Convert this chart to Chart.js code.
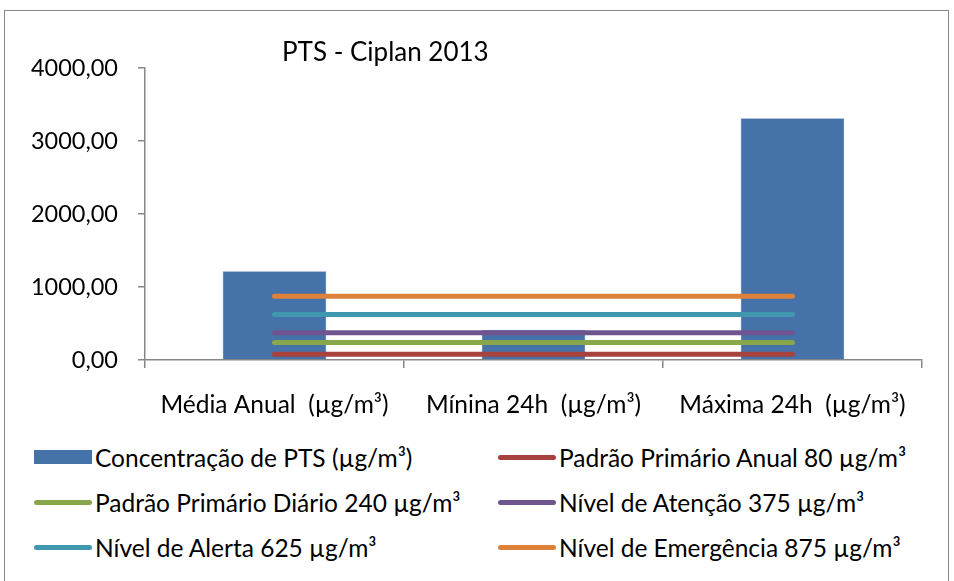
<!DOCTYPE html>
<html>
<head>
<meta charset="utf-8">
<script src="https://cdn.jsdelivr.net/npm/chart.js@4/dist/chart.umd.min.js"></script>
<style>
  html, body { margin: 0; padding: 0; background: #fff; }
  body { width: 954px; height: 581px; position: relative; overflow: hidden; font-family: Lato, "Open Sans", sans-serif; color: #000; }
  .frame { position: absolute; left: 4px; top: 10px; width: 943px; height: 600px; border: 1.5px solid #878787; }
  #wrap { position: absolute; left: 0; top: 0; width: 954px; height: 440px; }
  .title { position: absolute; left: 282px; top: 36px; font-size: 26px; line-height: 31px; white-space: pre; }
  .legend-item { position: absolute; height: 30px; display: flex; align-items: center; font-size: 24.5px; white-space: pre; }
  .sym { width: 58px; margin-right: 3px; }
  .sym.bar { height: 14px; }
  .sym.line { height: 5px; border-radius: 3px; }
</style>
</head>
<body>
<div class="frame"></div>
<div id="wrap"><canvas id="pts-chart"></canvas></div>
<div class="title">PTS - Ciplan 2013</div>
<div id="legend"></div>
<script>
const categories = ['Média Anual  (µg/m³)', 'Mínina 24h  (µg/m³)', 'Máxima 24h  (µg/m³)'];
const barLabel = 'Concentração de PTS (µg/m³)';
const concentracao = [1215, 410, 3310];

const limitLabels = [
    'Padrão Primário Anual 80 µg/m³',
    'Padrão Primário Diário 240 µg/m³',
    'Nível de Atenção 375 µg/m³',
    'Nível de Alerta 625 µg/m³',
    'Nível de Emergência 875 µg/m³'
];
const limitValues = [80, 240, 375, 625, 875];
const limitColors = ['#A8423F', '#88A64A', '#6F5590', '#3F98AE', '#DE823A'];
const barColor = '#4572A8';

const yTicks = [0, 1000, 2000, 3000, 4000];

const datasets = [{
    type: 'bar',
    label: barLabel,
    data: concentracao,
    backgroundColor: barColor,
    borderColor: '#6f93c0',
    borderWidth: 0.5,
    categoryPercentage: 0.8,
    barPercentage: 0.5,
    order: 1
}];

limitLabels.forEach((lbl, i) => {
    datasets.push({
        type: 'line',
        label: lbl,
        data: categories.map(() => limitValues[i]),
        borderColor: limitColors[i],
        backgroundColor: limitColors[i],
        borderWidth: 5,
        borderCapStyle: 'round',
        pointRadius: 0,
        tension: 0,
        order: 0
    });
});

const axisColor = '#868686';

const chart = new Chart(document.getElementById('pts-chart'), {
    data: { labels: categories, datasets: datasets },
    options: {
        responsive: true,
        maintainAspectRatio: false,
        animation: false,
        layout: { padding: { top: 68, right: 32, left: 0, bottom: 0 } },
        plugins: {
            legend: { display: false },
            tooltip: { enabled: false }
        },
        scales: {
            x: {
                offset: true,
                grid: { display: true, drawOnChartArea: false, offset: true, tickLength: 8, color: axisColor, lineWidth: 1.5 },
                border: { display: true, color: axisColor, width: 1.5 },
                ticks: { color: '#000', font: { family: 'Lato', size: 24.5 }, padding: 22, maxRotation: 0, autoSkip: false },
                afterFit: (scale) => { scale.height = 80; }
            },
            y: {
                min: 0,
                max: 4000,
                afterBuildTicks: (scale) => { scale.ticks = yTicks.map(v => ({ value: v })); },
                grid: { display: true, drawOnChartArea: false, tickLength: 7, color: axisColor, lineWidth: 1.5 },
                border: { display: true, color: axisColor, width: 1.5 },
                ticks: {
                    color: '#000',
                    font: { family: 'Lato', size: 23.5 },
                    padding: 20,
                    callback: (val) => val.toFixed(2).replace('.', ',')
                },
                afterFit: (scale) => { scale.width = 145; }
            }
        }
    }
});

// legend in two columns, like the spreadsheet original
const legendItems = [{ label: barLabel, color: barColor, kind: 'bar' }]
    .concat(limitLabels.map((l, i) => ({ label: l, color: limitColors[i], kind: 'line' })));
const colX = [34, 498];
const rowY = [442, 487, 532];
const legendEl = document.getElementById('legend');
legendItems.forEach((item, i) => {
    const div = document.createElement('div');
    div.className = 'legend-item';
    div.style.left = colX[i % 2] + 'px';
    div.style.top = rowY[Math.floor(i / 2)] + 'px';
    const sym = document.createElement('span');
    sym.className = 'sym ' + item.kind;
    sym.style.background = item.color;
    const txt = document.createElement('span');
    txt.textContent = item.label;
    div.appendChild(sym);
    div.appendChild(txt);
    legendEl.appendChild(div);
});
</script>
</body>
</html>
